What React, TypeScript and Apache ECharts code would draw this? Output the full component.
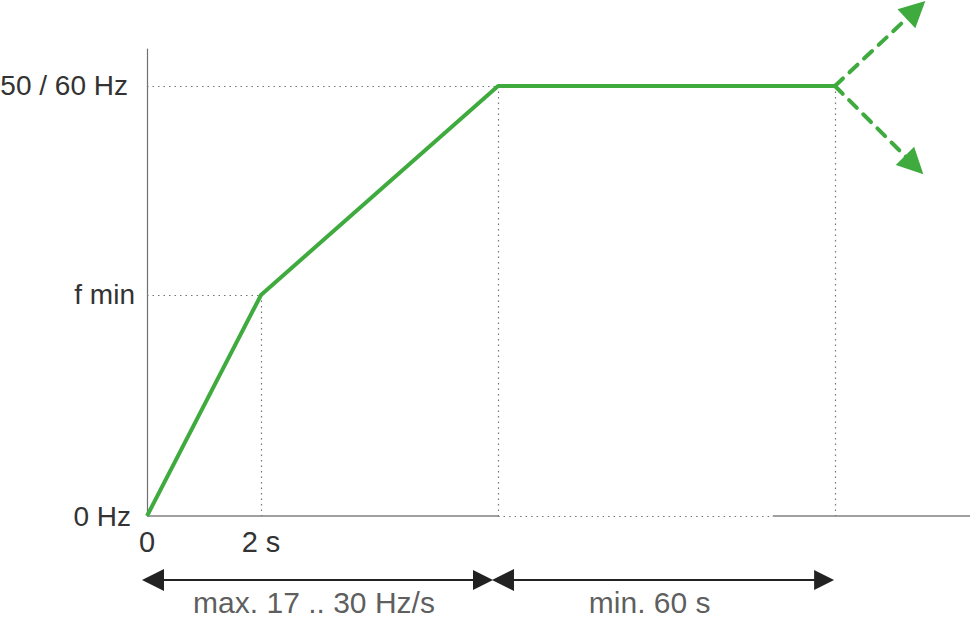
import React, { useEffect, useRef } from "react";
import * as echarts from "echarts";

// Frequency ramp profile (x in arbitrary time units, y in % of nominal frequency)
const rampX = [0, 2, 6.16, 12.07];
const rampY = [0, 51.4, 100, 100];

const yTickValues = [0, 51.4, 100];
const yTickLabels = ["0 Hz", "f min", "50 / 60 Hz"];
const xTickValues = [0, 2];
const xTickLabels = ["0", "2 s"];

const X_MAX = 14.44;
const Y_MAX = 108.6;

// x-axis pieces: solid, dotted, solid
const axisBreaks = [0, 6.16, 10.98, X_MAX];

// dashed green continuation arrows (start, end)
const upArrow = [[12.07, 100], [13.49, 117.7]];
const downArrow = [[12.07, 100], [13.46, 81.6]];

// phase dimension arrows below the axis
const phaseY = -14.88;
const phase1 = [0.105, 5.895];
const phase2 = [6.246, 11.88];
const phaseLabels = ["max. 17 .. 30 Hz/s", "min. 60 s"];
const phaseLabelX = [2.93, 8.82];
const phaseLabelY = -20.0;

const TEXT = "#333333";
const GREEN = "#3fab3f";
const FONT = "'Liberation Sans', Arial, sans-serif";
const FS = 29;

export default function App() {
  const ref = useRef<HTMLDivElement>(null);

  useEffect(() => {
    if (!ref.current) return;
    const chart = echarts.init(ref.current, null, { renderer: "svg" });

    const ramp = rampX.map((x, i) => [x, rampY[i]]);
    const guides = [
      [[0, rampY[1]], [rampX[1], rampY[1]]],
      [[rampX[1], rampY[1]], [rampX[1], 0]],
      [[0, rampY[2]], [rampX[3], rampY[3]]],
      [[rampX[2], rampY[2]], [rampX[2], 0]],
      [[rampX[3], rampY[3]], [rampX[3], 0]],
    ];
    const yRichKeys = ["zero", "fmin", "nom"];
    const labelRich = {
      zero: { fontSize: 28, color: TEXT, fontFamily: FONT, padding: [0, 4, 0, 0] },
      fmin: { fontSize: 28, color: TEXT, fontFamily: FONT, padding: [0, 0, 0, 0] },
      nom: { fontSize: 28, color: TEXT, fontFamily: FONT, padding: [0, 7, 0, 0] },
    };

    chart.setOption({
      animation: false,
      textStyle: { fontFamily: FONT },
      grid: {
        left: 147,
        right: 3,
        top: 49,
        bottom: 102,
        containLabel: false,
        outerBoundsMode: "none",
      },
      xAxis: {
        type: "value",
        min: 0,
        max: X_MAX,
        axisLine: { show: false },
        axisTick: { show: false },
        splitLine: { show: false },
        axisLabel: {
          customValues: xTickValues,
          formatter: (v: number) => {
            const i = xTickValues.findIndex((t) => Math.abs(t - v) < 1e-6);
            return i >= 0 ? xTickLabels[i] : "";
          },
          color: TEXT,
          fontSize: FS,
          fontFamily: FONT,
          margin: 11,
        },
      },
      yAxis: {
        type: "value",
        min: 0,
        max: Y_MAX,
        axisLine: { show: true, lineStyle: { color: "#707070", width: 1.2 } },
        axisTick: { show: false },
        splitLine: { show: false },
        axisLabel: {
          customValues: yTickValues,
          formatter: (v: number) => {
            const i = yTickValues.findIndex((t) => Math.abs(t - v) < 1e-6);
            return i >= 0 ? `{${yRichKeys[i]}|${yTickLabels[i]}}` : "";
          },
          rich: labelRich,
          color: TEXT,
          fontSize: 28,
          fontFamily: FONT,
          margin: 12,
        },
      },
      series: [
        {
          type: "lines",
          coordinateSystem: "cartesian2d",
          clip: false,
          z: 1,
          symbol: "none",
          lineStyle: { color: "#808080", width: 1.5, type: "solid", opacity: 1 },
          data: [
            { coords: [[axisBreaks[0], 0], [axisBreaks[1], 0]] },
            { coords: [[axisBreaks[2], 0], [axisBreaks[3], 0]] },
          ],
        },
        {
          type: "lines",
          coordinateSystem: "cartesian2d",
          clip: false,
          z: 1,
          symbol: "none",
          lineStyle: { color: "#777777", width: 1.2, type: [1.5, 4], opacity: 1 },
          data: [
            { coords: [[axisBreaks[1], 0], [axisBreaks[2], 0]] },
            ...guides.map((c) => ({ coords: c })),
          ],
        },
        {
          type: "line",
          data: ramp,
          symbol: "none",
          z: 3,
          lineStyle: { color: GREEN, width: 4 },
        },
        {
          type: "lines",
          coordinateSystem: "cartesian2d",
          clip: false,
          z: 3,
          symbol: ["none", "triangle"],
          symbolSize: [24, 26],
          lineStyle: { color: GREEN, width: 4, type: [11, 9], cap: "round", opacity: 1 },
          itemStyle: { color: GREEN },
          data: [{ coords: upArrow }, { coords: downArrow }],
        },
        {
          type: "lines",
          coordinateSystem: "cartesian2d",
          clip: false,
          z: 3,
          symbol: ["triangle", "triangle"],
          symbolSize: [22, 20],
          lineStyle: { color: "#222222", width: 2, type: "solid", opacity: 1 },
          itemStyle: { color: "#222222" },
          data: [
            { coords: [[phase1[0], phaseY], [phase1[1], phaseY]] },
            { coords: [[phase2[0], phaseY], [phase2[1], phaseY]] },
          ],
        },
        {
          type: "scatter",
          clip: false,
          symbolSize: 0,
          z: 4,
          label: {
            show: true,
            position: "inside",
            formatter: (p: any) => p.name,
            color: TEXT,
            fontSize: 30,
            fontFamily: FONT,
          },
          data: phaseLabels.map((n, i) => ({ name: n, value: [phaseLabelX[i], phaseLabelY] })),
        },
      ],
    });

    return () => chart.dispose();
  }, []);

  return (
    <div
      ref={ref}
      style={{ position: "fixed", left: 0, top: 0, width: 973, height: 618, background: "#fff" }}
    />
  );
}
